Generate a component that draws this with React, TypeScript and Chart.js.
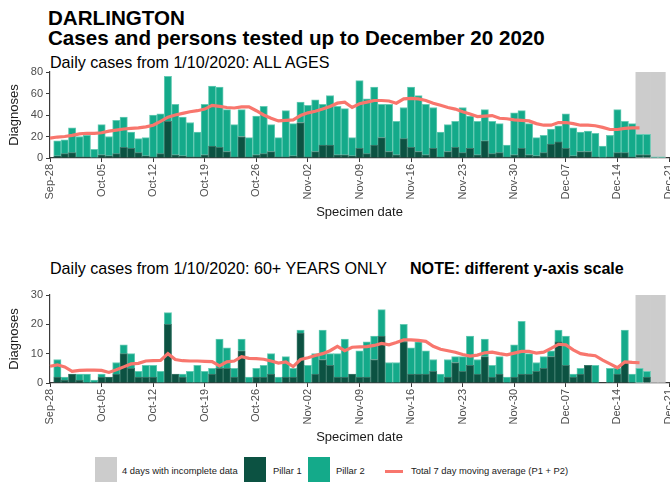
import React, { useEffect, useRef } from "react";
import { Chart, registerables } from "chart.js";

Chart.register(...registerables);

const FONT = "'Liberation Sans', Arial, Helvetica, sans-serif";

// ---- categories ----
const MONTHS = ["Jan", "Feb", "Mar", "Apr", "May", "Jun", "Jul", "Aug", "Sep", "Oct", "Nov", "Dec"];
const FIRST_DAY = { year: 2020, month: 8, day: 28 };
const DAY_COUNT = 85;
const days: string[] = Array.from({ length: DAY_COUNT }, (_, i) => {
  const d = new Date(FIRST_DAY.year, FIRST_DAY.month, FIRST_DAY.day + i);
  return `${MONTHS[d.getMonth()]}-${String(d.getDate()).padStart(2, "0")}`;
});
const tickLabels = [
  "Sep-28", "Oct-05", "Oct-12", "Oct-19", "Oct-26", "Nov-02", "Nov-09",
  "Nov-16", "Nov-23", "Nov-30", "Dec-07", "Dec-14", "Dec-21",
];
const incompleteDays = ["Dec-17", "Dec-18", "Dec-19", "Dec-20"];

// ---- ALL AGES ----
const allPillar1 = [
  null, 2, 4, 5, 1, 1, 0, 3, 2, 4, 10,
  9, 5, 2, 1, 4, 34, 3, 2, 1, 1,
  3, 11, 10, 6, 1, 20, 1, 3, 4, 6,
  1, 1, 2, 33, 1, 6, 12, 12, 3, 3,
  2, 9, 4, 12, 19, 6, 3, 18, 10, 6,
  3, 9, 1, 6, 10, 5, 9, 3, 16, 4,
  5, 1, 3, 9, 3, 2, 5, 13, 15, 9,
  2, 6, 6, 1, 0, 1, 5, 5, 1, 3,
  3, 0, 0, null,
];
const allPillar2 = [
  null, 14, 13, 23, 19, 20, 8, 28, 18, 31, 28,
  15, 13, 17, 39, 37, 42, 47, 36, 32, 23,
  47, 56, 56, 39, 30, 25, 18, 36, 44, 25,
  18, 43, 30, 19, 48, 48, 38, 46, 45, 43,
  17, 63, 51, 54, 31, 44, 31, 29, 56, 52,
  47, 38, 23, 25, 24, 42, 30, 31, 29, 30,
  27, 11, 39, 35, 29, 17, 16, 14, 15, 32,
  26, 18, 19, 22, 11, 20, 40, 29, 31, 19,
  19, 1, 1, null,
];
const allAverage = [
  18.5, 19.5, 20, 21, 22.5, 23, 23, 23.5, 25, 26,
  27, 27.5, 28, 29, 30.5, 34, 38, 40, 41.5, 43,
  44, 45.5, 49, 48, 47, 46.5, 47.5, 47.5, 44, 40,
  37, 34.5, 35, 35.5, 39.5, 42, 43.5, 45.5, 48, 51,
  52, 47, 50.5, 52, 53.5, 53.5, 53, 51, 55, 55.5,
  55, 53.5, 51, 49, 47, 45.5, 43, 41, 38.5, 39,
  39.5, 37, 36.5, 35.5, 35, 34.5, 32, 30.5, 30.5, 33,
  33, 32, 30.5, 30.5, 30, 28.5, 26.5, 26.5, 27.5, 28,
  28, null, null, null, null,
];

// ---- 60+ YEARS ----
const oldPillar1 = [
  null, 2, 1, 3, 1, 0, 0, 2, 2, 3, 10,
  5, 2, 2, 2, 0, 20, 3, 2, 0, 0,
  0, 3, 5, 5, 2, 11, 0, 2, 2, 3,
  0, 2, 2, 17, 0, 3, 8, 6, 2, 2,
  3, 2, 2, 8, 16, 0, 0, 14, 3, 3,
  3, 4, 0, 2, 7, 4, 6, 3, 9, 2,
  3, 0, 2, 3, 3, 4, 5, 9, 14, 6,
  2, 3, 6, 0, 0, 0, 3, 7, 0, 0,
  2, 0, 0, null,
];
const oldPillar2 = [
  null, 6, 1, 0, 2, 3, 1, 1, 0, 4, 3,
  5, 2, 4, 4, 4, 4, 0, 1, 4, 6,
  4, 2, 10, 7, 3, 4, 2, 3, 4, 7,
  2, 7, 3, 1, 6, 7, 10, 4, 8, 13,
  0, 9, 12, 8, 9, 7, 7, 6, 9, 11,
  8, 4, 3, 6, 2, 5, 10, 5, 6, 4,
  6, 2, 11, 18, 7, 3, 4, 2, 4, 10,
  1, 2, 0, 6, 0, 5, 2, 11, 3, 5,
  2, 0, 0, null,
];
const oldAverage = [
  5.7, 6.2, 5.5, 4, 4.3, 4.4, 4.4, 4.3, 3.6, 4.5,
  5.5, 6.5, 6.7, 7.5, 7.6, 7.7, 10, 8, 7.6, 7.5,
  7.5, 7.4, 7.3, 5.8, 7.2, 7.5, 9, 8.4, 8.3, 8.1,
  7.5, 6.8, 7.2, 5.6, 8, 8.6, 9.4, 10, 11, 12.5,
  11, 12.2, 12.3, 12.4, 12.8, 13.5, 13, 13.8, 14.7, 14.7,
  14.5, 14.2, 12.5, 11.5, 11, 10.5, 9.7, 9.2, 9.5, 10.3,
  10.5, 10, 9.6, 10.2, 10.8, 10.8, 10.2, 10.5, 11.8, 13.2,
  13, 11.3, 10, 9.6, 9.3, 7.8, 6.5, 5.2, 7.2, 7, 6.9,
  null, null, null, null,
];

// ---- styles ----
const COL_P1 = "#0c5242";
const COL_P1_EDGE = "#3c7a6b";
const COL_P2 = "#14aa8a";
const COL_P2_EDGE = "#66cbb4";
const COL_AVG = "#f8766d";
const COL_GREY = "#cccccc";
const AXIS = "#3a3a3a";
const TICK_TEXT = "#4d4d4d";

const CANVAS_W = 700;
const PLOT_RIGHT = 669;
const Y_AXIS_W = 50;
const X_AXIS_H = 62;

type PanelProps = {
  p1: (number | null)[];
  p2: (number | null)[];
  avg: (number | null)[];
  yMax: number;
  yStep: number;
  top: number;
  padTop: number;
  plotH: number;
};

function Panel({ p1, p2, avg, yMax, yStep, top, padTop, plotH }: PanelProps) {
  const ref = useRef<HTMLCanvasElement | null>(null);
  const height = padTop + plotH + X_AXIS_H;

  useEffect(() => {
    if (!ref.current) return;
    const grey = days.map((d) => (incompleteDays.includes(d) ? yMax : null));
    const chart = new Chart(ref.current, {
      type: "bar",
      data: {
        labels: days,
        datasets: [
          {
            type: "line",
            label: "Total 7 day moving average (P1 + P2)",
            data: avg,
            borderColor: COL_AVG,
            borderWidth: 3.2,
            pointRadius: 0,
            tension: 0,
            stack: "avg",
            order: 1,
          } as any,
          {
            label: "Pillar 1",
            data: p1,
            backgroundColor: COL_P1,
            borderColor: COL_P1_EDGE,
            borderWidth: 1,
            stack: "cases",
            order: 2,
          },
          {
            label: "Pillar 2",
            data: p2,
            backgroundColor: COL_P2,
            borderColor: COL_P2_EDGE,
            borderWidth: 1,
            stack: "cases",
            order: 2,
          },
          {
            label: "4 days with incomplete data",
            data: grey,
            backgroundColor: COL_GREY,
            borderWidth: 0,
            grouped: false,
            stack: "grey",
            order: 3,
          } as any,
        ],
      },
      options: {
        animation: false,
        responsive: false,
        maintainAspectRatio: false,
        events: [],
        layout: { padding: { top: padTop, right: CANVAS_W - PLOT_RIGHT, left: 0, bottom: 0 } },
        datasets: { bar: { barPercentage: 1, categoryPercentage: 1 } },
        plugins: {
          legend: { display: false },
          tooltip: { enabled: false },
          title: { display: false },
        },
        scales: {
          x: {
            type: "category",
            offset: false,
            stacked: true,
            grid: {
              offset: false,
              display: true,
              drawOnChartArea: false,
              drawTicks: true,
              tickLength: 4,
              lineWidth: 1,
              color: (ctx: any) =>
                tickLabels.includes(days[ctx.index]) ? AXIS : "rgba(0,0,0,0)",
            },
            border: { display: true, color: AXIS, width: 1.2 },
            ticks: {
              autoSkip: false,
              minRotation: 90,
              maxRotation: 90,
              padding: 2,
              color: TICK_TEXT,
              font: { family: FONT, size: 11 },
              callback: (_v: any, i: number) =>
                tickLabels.includes(days[i]) ? days[i] : "",
            },
            title: {
              display: true,
              text: "Specimen date",
              color: "#1a1a1a",
              font: { family: FONT, size: 13 },
              padding: { top: 2, bottom: 0 },
            },
            afterFit: (s: any) => {
              s.height = X_AXIS_H;
            },
          },
          y: {
            min: 0,
            max: yMax,
            stacked: true,
            grid: {
              display: true,
              drawOnChartArea: false,
              drawTicks: true,
              tickLength: 4,
              color: AXIS,
            },
            border: { display: true, color: AXIS, width: 1.2 },
            ticks: {
              stepSize: yStep,
              padding: 3,
              color: TICK_TEXT,
              font: { family: FONT, size: 11 },
            },
            title: {
              display: true,
              text: "Diagnoses",
              color: "#1a1a1a",
              font: { family: FONT, size: 13 },
              padding: { top: 7, bottom: 0 },
            },
            afterFit: (s: any) => {
              s.width = Y_AXIS_W;
            },
          },
        },
      } as any,
    });
    return () => chart.destroy();
  }, []);

  return (
    <canvas
      ref={ref}
      width={CANVAS_W}
      height={height}
      style={{ position: "absolute", left: 0, top, width: CANVAS_W, height }}
    />
  );
}

const keyBox = (left: number, color: string) => (
  <div style={{ position: "absolute", left, top: 457, width: 22, height: 25, background: color }} />
);
const keyText = (left: number, text: string) => (
  <div
    style={{
      position: "absolute",
      left,
      top: 465,
      fontSize: 9.4,
      lineHeight: "12px",
      color: "#1a1a1a",
      whiteSpace: "nowrap",
    }}
  >
    {text}
  </div>
);

export default function App() {
  return (
    <div
      style={{
        position: "fixed",
        left: 0,
        top: 0,
        width: 670,
        height: 485,
        overflow: "hidden",
        background: "#ffffff",
        fontFamily: FONT,
        color: "#000",
      }}
    >
      <div style={{ position: "absolute", left: 48, top: 7.5, fontSize: 20.6, fontWeight: "bold", lineHeight: 1, whiteSpace: "nowrap" }}>
        DARLINGTON
      </div>
      <div style={{ position: "absolute", left: 48, top: 27.5, fontSize: 20.6, fontWeight: "bold", lineHeight: 1, whiteSpace: "nowrap" }}>
        Cases and persons tested up to December 20 2020
      </div>
      <div style={{ position: "absolute", left: 50, top: 54, fontSize: 16.1, lineHeight: 1, whiteSpace: "nowrap" }}>
        Daily cases from 1/10/2020: ALL AGES
      </div>

      <Panel p1={allPillar1} p2={allPillar2} avg={allAverage} yMax={80} yStep={20} top={60} padTop={12} plotH={86} />

      <div style={{ position: "absolute", left: 50, top: 260, fontSize: 16.1, lineHeight: 1, whiteSpace: "nowrap" }}>
        Daily cases from 1/10/2020: 60+ YEARS ONLY
      </div>
      <div style={{ position: "absolute", left: 410, top: 260, fontSize: 16.1, fontWeight: "bold", lineHeight: 1, whiteSpace: "nowrap" }}>
        NOTE: different y-axis scale
      </div>

      <Panel p1={oldPillar1} p2={oldPillar2} avg={oldAverage} yMax={30} yStep={5} top={282} padTop={13} plotH={88} />

      {keyBox(95, COL_GREY)}
      {keyText(122, "4 days with incomplete data")}
      {keyBox(244, COL_P1)}
      {keyText(273, "Pillar 1")}
      {keyBox(308, COL_P2)}
      {keyText(336, "Pillar 2")}
      <div style={{ position: "absolute", left: 385, top: 470, width: 18, height: 3, background: COL_AVG }} />
      {keyText(411, "Total 7 day moving average (P1 + P2)")}
    </div>
  );
}
